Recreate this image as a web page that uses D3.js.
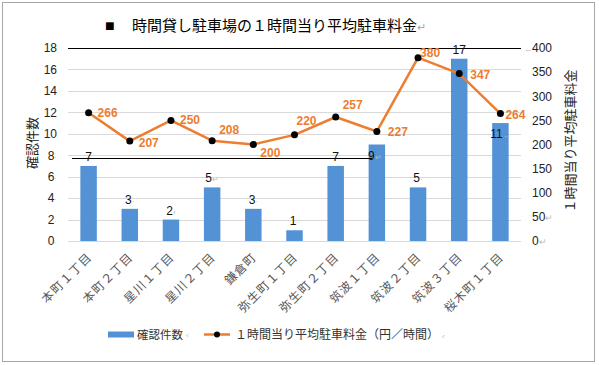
<!DOCTYPE html>
<html><head><meta charset="utf-8">
<script src="https://cdn.jsdelivr.net/npm/d3@7"></script>
<style>
html,body{margin:0;padding:0;background:#fff;}
svg text{font-family:"Liberation Sans","Noto Sans CJK JP",sans-serif;}
</style></head>
<body>
<svg id="c" width="599" height="365"></svg>
<script>
const categories = ["本町１丁目","本町２丁目","星川１丁目","星川２丁目","鎌倉町","弥生町１丁目","弥生町２丁目","筑波１丁目","筑波２丁目","筑波３丁目","桜木町１丁目"];
const counts = [7,3,2,5,3,1,7,9,5,17,11];
const prices = [266,207,250,208,200,220,257,227,380,347,264];
const leftTicks = [0,2,4,6,8,10,12,14,16,18];
const rightTicks = [0,50,100,150,200,250,300,350,400];
const titleMark = "■";
const title = "時間貸し駐車場の１時間当り平均駐車料金";
const leftTitle = "確認件数";
const rightTitle = "１時間当り平均駐車料金";
const seriesNames = ["確認件数","１時間当り平均駐車料金（円／時間）"];

const svg = d3.select("#c");
const X0=68, X1=521, Y0=241, Y1=48;
const BLUE="#5492d6", ORANGE="#ed7d31";
const CJK='"Noto Sans CJK JP","Liberation Sans",sans-serif';

svg.append("rect").attr("x",2.5).attr("y",2.5).attr("width",592).attr("height",359)
  .attr("fill","#fff").attr("stroke","#a6a6a6").attr("stroke-width",1);

const x = d3.scaleBand().domain(categories).range([X0,X1]).paddingInner(0.6).paddingOuter(0.3);
const yL = d3.scaleLinear().domain([0,18]).range([Y0,Y1]);
const yR = d3.scaleLinear().domain([0,400]).range([Y0,Y1]);

// gridlines
svg.append("g").selectAll("line").data(leftTicks).join("line")
  .attr("x1",X0).attr("x2",X1).attr("y1",d=>Math.round(yL(d))+0.5).attr("y2",d=>Math.round(yL(d))+0.5)
  .attr("stroke",d=>d===18?"#000":"#d9d9d9").attr("stroke-width",1);

// left axis
const gl = svg.append("g").attr("transform",`translate(${X0},0)`)
  .call(d3.axisLeft(yL).tickValues(leftTicks).tickSize(0).tickPadding(11));
gl.select(".domain").remove();
gl.selectAll("text").attr("font-size",12).attr("fill","#222")
  .attr("font-family",'"Liberation Sans",sans-serif');
gl.selectAll(".tick text").filter(d=>d<=8).each(function(){
  d3.select(this).append("tspan").attr("fill","#bbb").attr("font-size",8).text("·");
});

// right axis
const gr = svg.append("g").attr("transform",`translate(${X1},0)`)
  .call(d3.axisRight(yR).tickValues(rightTicks).tickSize(0).tickPadding(11));
gr.select(".domain").remove();
gr.selectAll("text").attr("font-size",12).attr("fill","#222")
  .attr("font-family",'"Liberation Sans",sans-serif');
gr.selectAll(".tick text").filter(d=>d<=50).each(function(){
  d3.select(this).append("tspan").attr("fill","#bbb").attr("font-size",9).text("↵");
});
svg.append("text").attr("x",524).attr("y",yR(400)+4).attr("font-size",9).attr("fill","#bbb").text("←");

// bars
svg.append("g").selectAll("rect").data(counts).join("rect")
  .attr("x",(d,i)=>x(categories[i])).attr("width",x.bandwidth())
  .attr("y",d=>yL(d)).attr("height",d=>Y0-yL(d)).attr("fill",BLUE);

// black line at 8
svg.append("line").attr("x1",72).attr("x2",372).attr("y1",158.5).attr("y2",158.5)
  .attr("stroke","#000").attr("stroke-width",1);

// bar labels
const inside = {7:true, 10:true};
const marks = ["","·","‹","↵","·","·","","↵","·","","←"];
const bl = svg.append("g").selectAll("text").data(counts).join("text")
  .attr("x",(d,i)=>x(categories[i])+x.bandwidth()/2 + (i===7?-2:0))
  .attr("y",(d,i)=> inside[i] ? yL(d)+15 : yL(d)-5)
  .attr("text-anchor","middle").attr("font-size",12).attr("fill","#111")
  .attr("font-family",'"Liberation Sans",sans-serif');
bl.append("tspan").text(d=>d);
bl.append("tspan").attr("fill","#bbb").attr("font-size",8).text((d,i)=>marks[i]);

// line
const cx = i=>x(categories[i])+x.bandwidth()/2;
svg.append("path").datum(prices)
  .attr("d",d3.line().x((d,i)=>cx(i)).y(d=>yR(d)))
  .attr("fill","none").attr("stroke",ORANGE).attr("stroke-width",2.5).attr("stroke-linejoin","round");
svg.append("g").selectAll("circle").data(prices).join("circle")
  .attr("cx",(d,i)=>cx(i)).attr("cy",d=>yR(d)).attr("r",3.5).attr("fill","#000");

// line labels offsets [dx, dy]
const off = [[9,4],[9,6],[9,4],[7,-7],[7,12],[2,-10],[7,-8],[11,5],[2,-1],[11,5],[5,5]];
svg.append("g").selectAll("text").data(prices).join("text")
  .attr("x",(d,i)=>cx(i)+off[i][0]).attr("y",(d,i)=>yR(d)+off[i][1])
  .attr("font-size",12).attr("font-weight","bold").attr("fill",ORANGE)
  .attr("font-family",'"Liberation Sans",sans-serif').text(d=>d);

// category labels
svg.append("g").selectAll("text").data(categories).join("text")
  .attr("transform",(d,i)=>`translate(${cx(i)+4},${Y0+17}) rotate(-45)`)
  .attr("text-anchor","end").attr("font-size",12).attr("letter-spacing",1).attr("fill","#595959")
  .attr("font-family",CJK).text(d=>d);

// title
svg.append("text").attr("x",105).attr("y",31).attr("font-size",16).attr("fill","#000")
  .attr("font-family",'"DejaVu Sans",sans-serif').text(titleMark);
const t = svg.append("text").attr("x",132).attr("y",31).attr("font-size",15).attr("fill","#000")
  .attr("font-family",CJK);
t.append("tspan").text(title);
t.append("tspan").attr("fill","#aaa").attr("font-size",11).text("↵");

// axis titles
svg.append("text").attr("transform","translate(37,143) rotate(-90)").attr("text-anchor","middle")
  .attr("font-size",13).attr("fill","#222").attr("font-family",CJK).text(leftTitle);
svg.append("text").attr("transform","translate(575,141) rotate(-90)").attr("text-anchor","middle")
  .attr("font-size",13).attr("fill","#222").attr("font-family",CJK).text(rightTitle);

// legend
const lg = svg.append("g");
lg.append("rect").attr("x",108).attr("y",331.5).attr("width",26).attr("height",6).attr("fill",BLUE);
lg.append("text").attr("x",137).attr("y",339).attr("font-size",11.5).attr("fill","#333")
  .attr("font-family",CJK).text(seriesNames[0]);
lg.append("text").attr("x",186).attr("y",338).attr("font-size",8).attr("fill","#bbb").text("‹");
lg.append("line").attr("x1",204).attr("x2",230).attr("y1",334.5).attr("y2",334.5)
  .attr("stroke",ORANGE).attr("stroke-width",2.5);
lg.append("circle").attr("cx",217).attr("cy",334.5).attr("r",3).attr("fill","#000");
const lt = lg.append("text").attr("x",235).attr("y",339).attr("font-size",12).attr("fill","#333")
  .attr("font-family",CJK);
lt.append("tspan").text(seriesNames[1]);
lt.append("tspan").attr("fill","#bbb").attr("font-size",8).attr("dx",3).text("‹");
</script>
</body></html>
